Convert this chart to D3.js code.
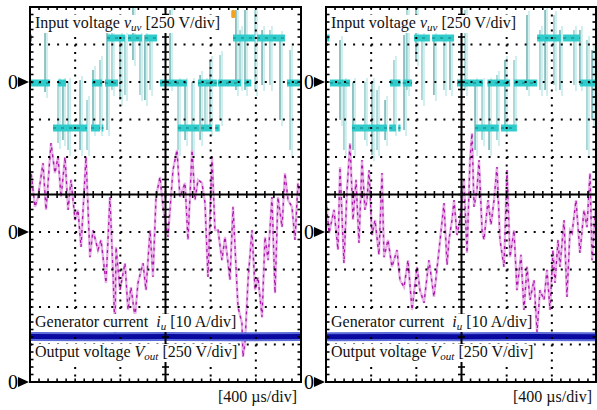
<!DOCTYPE html>
<html>
<head>
<meta charset="utf-8">
<style>
body { margin: 0; background: #fff; }
svg { display: block; }
.lbl { font-family: "Liberation Serif", "Times New Roman", serif; font-size: 16px; fill: #111; }
.zero { font-family: "Liberation Serif", "Times New Roman", serif; font-size: 20px; fill: #000; }
</style>
</head>
<body>
<svg width="597" height="410"></svg>
<script src="https://cdn.jsdelivr.net/npm/d3@7/dist/d3.min.js"></script>
<script>

// 400 us/div, 6 div per screen -> 0..2400 us
var timeDomain = [0, 2400];

// input voltage v_uv, level segments [t start (us), t end (us), level (V)]
var cyanLevels1 = [
  [0, 18, 300], [0, 177, 0], [248, 319, 0],
  [204, 505, -300], [540, 620, -300], [635, 650, -300],
  [549, 638, 0], [664, 780, 0],
  [682, 841, 300], [868, 992, 300], [1018, 1125, 300],
  [1151, 1390, 0], [1488, 1655, 0],
  [1310, 1500, -300], [1515, 1610, -300], [1640, 1680, -300],
  [1665, 1870, 0], [1900, 1960, 0],
  [1798, 1990, 300], [2010, 2258, 300],
  [2276, 2400, 0]
];
var cyanLevels2 = [
  [0, 30, 300], [35, 213, 0],
  [230, 540, -300], [560, 620, -300], [640, 660, -300],
  [567, 660, 0], [680, 762, 0],
  [780, 920, 300], [940, 1134, 300],
  [1160, 1390, 0], [1430, 1630, 0],
  [1320, 1530, -300], [1550, 1690, -300],
  [1665, 1870, 0],
  [1870, 2080, 300], [2100, 2250, 300],
  [2250, 2400, 0]
];

// switching spikes [t (us), top (V), bottom (V)]
var cyanSpikes1 = [
  [133, 333, -67], [248, 0, -407], [292, 0, -387], [337, 0, -453], [443, 13, -453],
  [505, -120, -453], [558, 80, -320], [620, 147, -320], [682, 347, -320], [726, 413, -53],
  [797, 313, -120], [841, 313, -87], [912, 500, 147], [974, 313, -87], [1018, 313, -120],
  [1063, 280, -53], [1240, 480, -20], [1311, 0, -453], [1373, 0, -387], [1435, 0, -453],
  [1506, 47, -387], [1550, 0, -287], [1594, 147, -320], [1683, 180, -253], [1824, 480, -53],
  [1860, 347, -20], [1904, 480, -53], [1993, 480, -53], [2055, 347, -20], [2125, 347, -20],
  [2214, 313, -253], [2303, 213, -453]
];
var cyanSpikes2 = [
  [124, 280, -253], [159, 0, -453], [239, 0, -453], [345, 0, -387], [407, 0, -487],
  [452, -53, -453], [523, -120, -387], [602, 147, -320], [691, 313, -320], [717, 480, -53],
  [797, 500, 147], [850, 313, -120], [956, 313, -87], [1045, 313, -53], [1098, 280, -53],
  [1231, 480, -53], [1320, 0, -453], [1382, 0, -387], [1444, 0, -453], [1514, 47, -387],
  [1585, 147, -320], [1665, 147, -287], [1780, 447, -53], [1895, 347, -53], [1940, 480, -53],
  [2019, 447, -20], [2072, 347, -53], [2196, 347, -20], [2249, 347, -20], [2311, 280, -453],
  [2356, 213, -253]
];

// generator current i_u [t (us), A]
var current1 = [
  [0, 8.5], [10, 15.7], [44, 6.7], [71, 9.3], [115, 18.4], [142, 5.9], [186, 23.7], [221, 15.7],
  [248, 20], [275, 9.3], [310, 20], [337, 5.9], [363, 13.9], [399, 3.2], [425, 5.9], [452, -4],
  [496, 20], [531, -6.7], [558, 0.5], [602, -4.8], [629, -2.1], [673, -13.6], [708, 9.3],
  [735, -10.9], [753, -27], [762, -4], [797, -15.5], [841, -8.3], [868, -20.8], [894, -14.7],
  [930, -22.7], [956, -13.6], [1001, -8.3], [1027, -15.5], [1063, 0.5], [1089, -12], [1116, 9.3],
  [1151, 14.7], [1178, 6.7], [1222, -1.3], [1266, 16.5], [1302, 21.9], [1328, 9.3], [1373, 13.1],
  [1399, -2.1], [1435, 21.9], [1461, 8.5], [1488, 13.9], [1523, 13.1], [1550, 7.7], [1576, -12],
  [1612, 20], [1638, 0.5], [1665, 0.5], [1700, -7.5], [1727, -1.3], [1771, -12.8], [1798, 6.7],
  [1842, -20], [1877, -24.3], [1886, -33.3], [1904, -29.6], [1931, -12.8], [1966, 0.5],
  [1993, -15.5], [2019, -12], [2055, -22.7], [2081, -1.3], [2108, -7.5], [2143, 9.3],
  [2170, -16.3], [2196, 9.3], [2232, 1.3], [2258, 15.7], [2285, 8.5], [2320, 6.7], [2347, -2.1],
  [2373, 13.1], [2400, 8.5]
];
var current2 = [
  [0, 8.5], [27, -0.3], [71, 5.9], [106, -4.8], [124, 17.3], [159, -8.3], [186, 11.2], [213, 23.7],
  [239, 3.2], [266, 13.9], [292, -2.9], [319, 19.2], [345, 5.9], [363, 8.5], [381, 16.5],
  [407, -0.8], [434, 3.2], [469, -6.1], [496, 15.7], [514, -6.7], [549, -2.1], [584, -9.3],
  [629, -4.8], [655, -12.8], [691, -14.7], [726, -7.5], [762, -20.8], [806, -9.3], [832, -15.5],
  [868, -18.9], [912, -7.5], [956, -17.3], [1001, -4.8], [1045, 7.7], [1072, -8.8], [1089, -2.1],
  [1116, 3.2], [1134, 8.5], [1160, -0.8], [1187, 3.2], [1222, 13.9], [1249, -5.6], [1275, 19.2],
  [1293, 26.4], [1311, 6.7], [1337, 11.2], [1355, 19.2], [1382, 0.5], [1399, -2.1], [1435, 8.5],
  [1461, 1.9], [1488, 8.5], [1514, 17.3], [1541, -2.1], [1576, -9.3], [1603, 16.5], [1630, -6.7],
  [1665, 0.5], [1691, -15.5], [1727, -6.1], [1753, -20.8], [1780, -9.3], [1807, -18.1],
  [1842, -12.8], [1869, -26.7], [1895, -15.5], [1931, -18.1], [1957, -10.1], [1984, -20.8],
  [2010, -4.8], [2028, -13.6], [2055, -2.1], [2072, -9.3], [2108, 3.2], [2134, -17.3],
  [2161, 0.5], [2179, -0.3], [2214, 8.5], [2249, -5.6], [2285, 5.9], [2311, 1.3], [2338, 15.7],
  [2356, -7.5], [2382, 4], [2400, 8.5]
];

// output voltage V_out [t (us), V]
var vout1 = [[0, 303], [600, 301], [1200, 304], [1800, 302], [2400, 303]];
var vout2 = [[0, 302], [600, 304], [1200, 302], [1800, 303], [2400, 302]];

// trigger marker time (us)
var trigger1 = [1800];

var panels = [
  { x0: 30, x1: 301, levels: cyanLevels1, spikes: cyanSpikes1, current: current1, vout: vout1, trig: trigger1 },
  { x0: 326, x1: 596, levels: cyanLevels2, spikes: cyanSpikes2, current: current2, vout: vout2, trig: [] }
];

var svg = d3.select("svg"),
    plotTop = 7,
    plotBottom = 382;

// 250 V/div, zero 2 div below top
var yV = d3.scaleLinear().domain([-2000, 500]).range([plotBottom, plotTop]);
// 10 A/div, zero 6 div below top
var yI = d3.scaleLinear().domain([-40, 60]).range([plotBottom, plotTop]);
// 250 V/div, zero at bottom
var yO = d3.scaleLinear().domain([0, 2500]).range([plotBottom, plotTop]);
var yDiv = d3.scaleLinear().domain([0, 10]).range([plotBottom, plotTop]);

panels.forEach(function(p, pi) {
  var x = d3.scaleLinear().domain(timeDomain).range([p.x0, p.x0 + 271]);
  var xDiv = d3.scaleLinear().domain([0, 6]).range([p.x0, p.x0 + 271]);

  svg.append("clipPath").attr("id", "clip" + pi)
    .append("rect").attr("x", p.x0).attr("y", plotTop)
      .attr("width", p.x1 - p.x0).attr("height", plotBottom - plotTop);

  var g = svg.append("g").attr("clip-path", "url(#clip" + pi + ")");

  // cyan: faint halo spikes then dark spikes
  g.append("g").selectAll("line")
    .data(p.spikes)
    .enter().append("line")
      .attr("x1", function(d) { return x(d[0]) + 2; })
      .attr("x2", function(d) { return x(d[0]) + 2; })
      .attr("y1", function(d) { return yV(d[1]) - 4; })
      .attr("y2", function(d) { return yV(d[2]) + 6; })
      .attr("stroke", "#c2eaea")
      .attr("stroke-width", 1.5);

  g.append("g").selectAll("line")
    .data(p.spikes)
    .enter().append("line")
      .attr("x1", function(d) { return x(d[0]); })
      .attr("x2", function(d) { return x(d[0]); })
      .attr("y1", function(d) { return yV(d[1]); })
      .attr("y2", function(d) { return yV(d[2]); })
      .attr("stroke", function(d, i) { return i % 2 ? "#6cbaba" : "#3a9494"; })
      .attr("stroke-width", 1.1);

  g.append("g").selectAll("line")
    .data(p.levels)
    .enter().append("line")
      .attr("x1", function(d) { return x(d[0]); })
      .attr("x2", function(d) { return x(d[1]); })
      .attr("y1", function(d) { return yV(d[2]) + 1; })
      .attr("y2", function(d) { return yV(d[2]) + 1; })
      .attr("stroke", "#30cccc")
      .attr("stroke-width", 7);

  g.append("g").selectAll("line")
    .data(p.levels)
    .enter().append("line")
      .attr("x1", function(d) { return x(d[0]); })
      .attr("x2", function(d) { return x(d[1]); })
      .attr("y1", function(d) { return yV(d[2]) + 1; })
      .attr("y2", function(d) { return yV(d[2]) + 1; })
      .attr("stroke", "#1a9696")
      .attr("stroke-width", 1.6)
      .attr("stroke-dasharray", "3,5");

  // magenta current
  var line = d3.line()
    .x(function(d) { return x(d[0]); })
    .y(function(d) { return yI(d[1]); });

  g.append("path").datum(p.current)
    .attr("d", line)
    .attr("fill", "none")
    .attr("stroke", "#e8b4e8")
    .attr("stroke-width", 2.4);

  g.append("path").datum(p.current)
    .attr("d", line)
    .attr("fill", "none")
    .attr("stroke", "#ab18ab")
    .attr("stroke-width", 1.3)
    .attr("stroke-dasharray", "3,4");

  // output voltage band
  var oline = d3.line()
    .x(function(d) { return x(d[0]); })
    .y(function(d) { return yO(d[1]); });

  g.append("path").datum(p.vout)
    .attr("d", oline).attr("fill", "none")
    .attr("stroke", "#5c6cd8").attr("stroke-width", 9);
  g.append("path").datum(p.vout)
    .attr("d", oline).attr("fill", "none")
    .attr("stroke", "#0a0aa0").attr("stroke-width", 5);

  // trigger marker
  g.selectAll(".trig").data(p.trig).enter().append("rect")
    .attr("x", function(d) { return x(d) - 2; })
    .attr("y", plotTop + 3)
    .attr("width", 4).attr("height", 8)
    .attr("rx", 1.5)
    .attr("fill", "#f4a020");

  // dotted grid
  var grid = svg.append("g");
  grid.selectAll(".gv")
    .data([1, 2, 4, 5])
    .enter().append("line")
      .attr("x1", function(d) { return xDiv(d); })
      .attr("x2", function(d) { return xDiv(d); })
      .attr("y1", plotTop).attr("y2", plotBottom)
      .attr("stroke", "#000").attr("stroke-width", 2)
      .attr("stroke-dasharray", "2,5.5");
  grid.selectAll(".gh")
    .data([1, 2, 3, 4, 6, 7, 8, 9])
    .enter().append("line")
      .attr("x1", p.x0).attr("x2", p.x1)
      .attr("y1", function(d) { return yDiv(d); })
      .attr("y2", function(d) { return yDiv(d); })
      .attr("stroke", "#000").attr("stroke-width", 2)
      .attr("stroke-dasharray", "2,7.03");

  // centre cross with minor ticks
  var cx = xDiv(3), cy = yDiv(5);
  grid.append("line").attr("x1", cx).attr("x2", cx).attr("y1", plotTop).attr("y2", plotBottom)
    .attr("stroke", "#000").attr("stroke-width", 2);
  grid.append("line").attr("x1", p.x0).attr("x2", p.x1).attr("y1", cy).attr("y2", cy)
    .attr("stroke", "#000").attr("stroke-width", 2);

  var minorY = d3.range(0, 50).map(function(i) { return yDiv(i / 5); });
  var minorX = d3.range(0, 30).map(function(i) { return xDiv(i / 5); });

  grid.selectAll(".ty").data(minorY).enter().append("line")
    .attr("x1", cx - 3.5).attr("x2", cx + 3.5)
    .attr("y1", function(d) { return d; }).attr("y2", function(d) { return d; })
    .attr("stroke", "#000").attr("stroke-width", 1.6);
  grid.selectAll(".tx").data(minorX).enter().append("line")
    .attr("y1", cy - 3.5).attr("y2", cy + 3.5)
    .attr("x1", function(d) { return d; }).attr("x2", function(d) { return d; })
    .attr("stroke", "#000").attr("stroke-width", 1.6);

  // border ticks
  grid.selectAll(".bl").data(minorY).enter().append("line")
    .attr("x1", p.x0).attr("x2", p.x0 + 3.5)
    .attr("y1", function(d) { return d; }).attr("y2", function(d) { return d; })
    .attr("stroke", "#000").attr("stroke-width", 1.6);
  grid.selectAll(".br").data(minorY).enter().append("line")
    .attr("x1", p.x1 - 3.5).attr("x2", p.x1)
    .attr("y1", function(d) { return d; }).attr("y2", function(d) { return d; })
    .attr("stroke", "#000").attr("stroke-width", 1.6);
  grid.selectAll(".bb").data(minorX).enter().append("line")
    .attr("y1", plotBottom - 3.5).attr("y2", plotBottom)
    .attr("x1", function(d) { return d; }).attr("x2", function(d) { return d; })
    .attr("stroke", "#000").attr("stroke-width", 1.6);
  grid.selectAll(".bt").data(minorX).enter().append("line")
    .attr("y1", plotTop).attr("y2", plotTop + 3)
    .attr("x1", function(d) { return d; }).attr("x2", function(d) { return d; })
    .attr("stroke", "#000").attr("stroke-width", 1.6);

  grid.append("rect")
    .attr("x", p.x0).attr("y", plotTop)
    .attr("width", p.x1 - p.x0).attr("height", plotBottom - plotTop)
    .attr("fill", "none").attr("stroke", "#000").attr("stroke-width", 2);

  // labels with white backing
  var lab = svg.append("g");
  function label(yPos, parts) {
    var gl = lab.append("g");
    var t = gl.append("text").attr("class", "lbl").attr("x", p.x0 + 5).attr("y", yPos);
    parts.forEach(function(q) {
      var s = t.append("tspan").text(q.t);
      if (q.i) s.attr("font-style", "italic");
      if (q.sub) s.attr("font-size", "11px").attr("dy", 3);
      if (q.up) s.attr("dy", -3);
    });
    var b = t.node().getBBox();
    gl.insert("rect", "text")
      .attr("x", b.x - 1).attr("y", b.y + 1)
      .attr("width", b.width + 2).attr("height", b.height - 1)
      .attr("fill", "#fff");
  }
  label(28, [{t: "Input voltage "}, {t: "v", i: 1}, {t: "uv", i: 1, sub: 1}, {t: " [250 V/div]", up: 1}]);
  label(327, [{t: "Generator current \u00a0"}, {t: "i", i: 1}, {t: "u", i: 1, sub: 1}, {t: "\u00a0[10 A/div]", up: 1}]);
  label(357, [{t: "Output voltage "}, {t: "V", i: 1}, {t: "out", i: 1, sub: 1}, {t: "\u00a0[250 V/div]", up: 1}]);

  lab.append("text").attr("class", "lbl")
    .attr("x", p.x1 - 4).attr("y", 402)
    .attr("text-anchor", "end")
    .text("[400 \u00b5s/div]");

  // zero reference markers
  var zeros = [yV(0), yI(0), yO(0)];
  var zm = svg.append("g").selectAll("g").data(zeros).enter().append("g")
    .attr("transform", function(d) { return "translate(" + p.x0 + "," + d + ")"; });
  zm.append("path").attr("d", "M-12,-5L-1,0L-12,5Z").attr("fill", "#000");
  zm.append("text").attr("class", "zero")
    .attr("x", -12).attr("y", 7).attr("text-anchor", "end").text("0");
});

</script>
</body>
</html>
